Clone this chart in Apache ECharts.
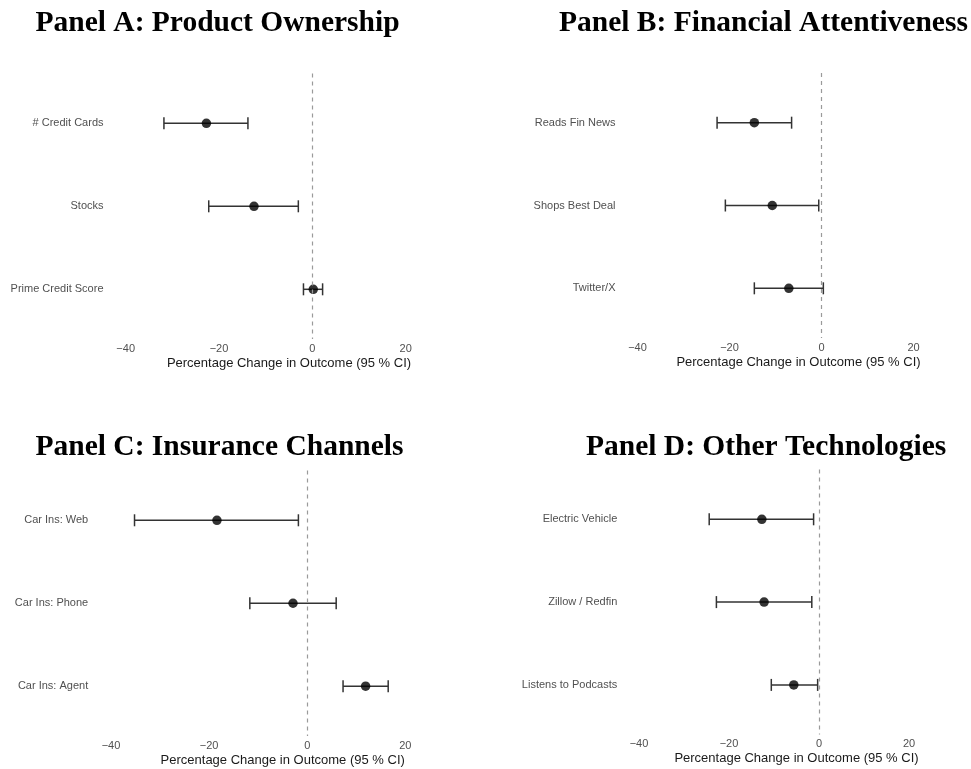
<!DOCTYPE html>
<html>
<head>
<meta charset="utf-8">
<script src="https://cdn.jsdelivr.net/npm/echarts@6/dist/echarts.min.js"></script>
<style>
  html, body { margin: 0; padding: 0; background: #fff; }
  #chart { width: 971px; height: 769px; }
</style>
</head>
<body>
<div id="chart"></div>
<script>
// Panel titles
const titleA = 'Panel A: Product Ownership';
const titleB = 'Panel B: Financial Attentiveness';
const titleC = 'Panel C: Insurance Channels';
const titleD = 'Panel D: Other Technologies';

// Panel A: Product Ownership
const catsA = ['# Credit Cards', 'Stocks', 'Prime Credit Score'];
const estA  = [-22.7, -12.5, 0.2];
const loA   = [-31.8, -22.2, -1.9];
const hiA   = [-13.8, -3.0, 2.2];

// Panel B: Financial Attentiveness
const catsB = ['Reads Fin News', 'Shops Best Deal', 'Twitter/X'];
const estB  = [-14.6, -10.7, -7.1];
const loB   = [-22.7, -20.9, -14.6];
const hiB   = [-6.5, -0.6, 0.4];

// Panel C: Insurance Channels
const catsC = ['Car Ins: Web', 'Car Ins: Phone', 'Car Ins: Agent'];
const estC  = [-18.4, -2.9, 11.9];
const loC   = [-35.2, -11.7, 7.3];
const hiC   = [-1.8, 5.9, 16.5];

// Panel D: Other Technologies
const catsD = ['Electric Vehicle', 'Zillow / Redfin', 'Listens to Podcasts'];
const estD  = [-12.7, -12.2, -5.6];
const loD   = [-24.4, -22.8, -10.6];
const hiD   = [-1.2, -1.6, -0.3];

// Shared x-axis ticks and title
const xTicks = [-40, -20, 0, 20];
const xTitle = 'Percentage Change in Outcome (95 % CI)';

const panels = [
  { title: titleA, cats: catsA, est: estA, lo: loA, hi: hiA },
  { title: titleB, cats: catsB, est: estB, lo: loB, hi: hiB },
  { title: titleC, cats: catsC, est: estC, lo: loC, hi: hiC },
  { title: titleD, cats: catsD, est: estD, lo: loD, hi: hiD }
];

// Plot-area placement for each panel
const layout = [
  { grid: { left: 114, top: 73.5, width: 350, height: 265.6 }, titleX: 35.5, titleY: 23, gap: 17.5 },
  { grid: { left: 626, top: 73, width: 349.5, height: 265 }, titleX: 559, titleY: 23, gap: 17.5 },
  { grid: { left: 98.7, top: 470.5, width: 368, height: 265.5 }, titleX: 35.5, titleY: 447, gap: 17.5 },
  { grid: { left: 627.75, top: 469.6, width: 337.5, height: 265 }, titleX: 586, titleY: 447, gap: 17 }
];

const labelGrey = '#505050';
const fmtTick = v => (v < 0 ? '\u2212' + Math.abs(v) : String(v));

const grids = [], xAxes = [], yAxes = [], series = [], graphics = [];

panels.forEach((p, i) => {
  const L = layout[i];
  grids.push(Object.assign({ containLabel: false }, L.grid));

  xAxes.push({
    type: 'value', gridIndex: i, min: -42.5, max: 32.5,
    axisLine: { show: false }, axisTick: { show: false }, splitLine: { show: false },
    axisLabel: {
      customValues: xTicks, formatter: fmtTick, margin: 4,
      color: labelGrey, fontSize: 11, fontFamily: 'Liberation Sans, Arial, sans-serif'
    },
    name: xTitle, nameLocation: 'middle', nameGap: L.gap,
    nameTextStyle: { color: '#1a1a1a', fontSize: 13, fontFamily: 'Liberation Sans, Arial, sans-serif' }
  });

  yAxes.push({
    type: 'value', gridIndex: i, min: 0.4, max: 3.6, inverse: true,
    axisLine: { show: false }, axisTick: { show: false }, splitLine: { show: false },
    axisLabel: {
      customValues: [1, 2, 3], formatter: v => p.cats[Math.round(v) - 1] || '',
      margin: 10.5, color: labelGrey, fontSize: 11, fontFamily: 'Liberation Sans, Arial, sans-serif'
    }
  });

  // confidence interval whiskers with end caps
  series.push({
    type: 'custom', xAxisIndex: i, yAxisIndex: i, silent: true,
    data: p.cats.map((c, k) => [k + 1, p.lo[k], p.hi[k]]),
    encode: { y: 0, x: [1, 2] },
    renderItem: (params, api) => {
      const y = api.value(0);
      const a = api.coord([api.value(1), y]);
      const b = api.coord([api.value(2), y]);
      const h = 6;
      const st = { stroke: '#333', lineWidth: 1.5 };
      return {
        type: 'group',
        children: [
          { type: 'line', shape: { x1: a[0], y1: a[1], x2: b[0], y2: b[1] }, style: st },
          { type: 'line', shape: { x1: a[0], y1: a[1] - h, x2: a[0], y2: a[1] + h }, style: st },
          { type: 'line', shape: { x1: b[0], y1: b[1] - h, x2: b[0], y2: b[1] + h }, style: st }
        ]
      };
    },
    // reference line at zero
    markLine: {
      silent: true, symbol: 'none', label: { show: false },
      lineStyle: { color: '#9a9a9a', type: [4, 4], width: 1.2 },
      data: [{ xAxis: 0 }]
    },
    z: 2
  });

  // point estimates
  series.push({
    type: 'scatter', xAxisIndex: i, yAxisIndex: i, silent: true,
    symbol: 'circle', symbolSize: 9.5,
    itemStyle: { color: '#000' },
    data: p.est.map((v, k) => [v, k + 1]),
    z: 3
  });

  graphics.push({
    type: 'text', x: L.titleX, y: L.titleY,
    style: {
      text: p.title, fill: '#000',
      font: 'bold 29.5px "Liberation Serif", "Times New Roman", serif',
      verticalAlign: 'middle', align: 'left'
    }
  });
});

const chart = echarts.init(document.getElementById('chart'), null, { renderer: 'canvas' });
chart.setOption({
  animation: false,
  backgroundColor: '#fff',
  grid: grids,
  xAxis: xAxes,
  yAxis: yAxes,
  series: series,
  graphic: graphics
});
</script>
</body>
</html>
